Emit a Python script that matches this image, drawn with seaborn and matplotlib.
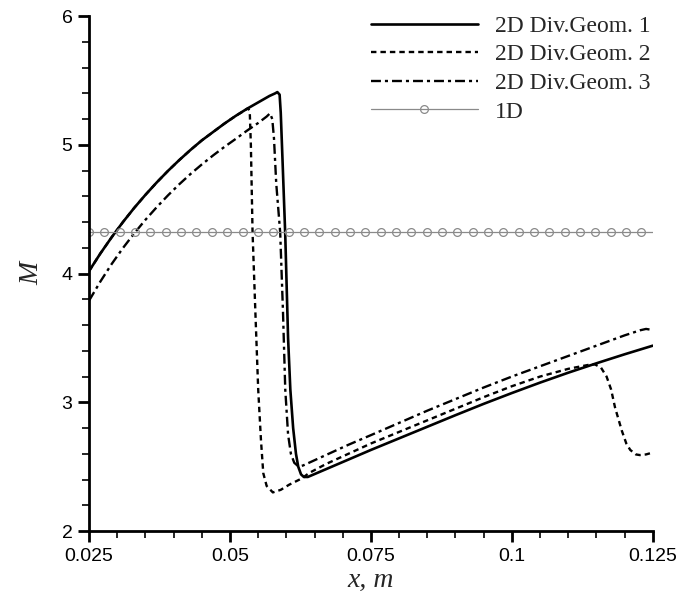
import numpy as np
import pandas as pd
import matplotlib
matplotlib.use("Agg")
import matplotlib.pyplot as plt
import seaborn as sns
from matplotlib.ticker import MultipleLocator, FixedLocator

# ---------------- data ----------------
labels = ["2D Div.Geom. 1", "2D Div.Geom. 2", "2D Div.Geom. 3", "1D"]

x_geom1 = [0.025, 0.027, 0.029, 0.031, 0.033, 0.035, 0.037, 0.039, 0.041, 0.043,
           0.045, 0.047, 0.049, 0.051, 0.053, 0.055, 0.057, 0.058, 0.0584, 0.0588,
           0.0590, 0.0593, 0.0598, 0.0603, 0.0607, 0.0612, 0.0617, 0.0621, 0.0626, 0.0631,
           0.0638, 0.067, 0.071, 0.075, 0.080, 0.085, 0.090, 0.095, 0.100, 0.105,
           0.110, 0.115, 0.120, 0.125]
y_geom1 = [4.02, 4.156, 4.282, 4.40, 4.51, 4.612, 4.708, 4.798, 4.882, 4.961,
           5.035, 5.10, 5.165, 5.225, 5.28, 5.33, 5.38, 5.40, 5.41, 5.39,
           5.25, 4.90, 4.30, 3.50, 3.10, 2.80, 2.60, 2.50, 2.44, 2.42,
           2.42, 2.48, 2.555, 2.63, 2.72, 2.81, 2.90, 2.988, 3.072, 3.153,
           3.230, 3.303, 3.373, 3.44]

x_geom2 = [0.025, 0.027, 0.029, 0.031, 0.033, 0.035, 0.037, 0.039, 0.041, 0.043,
           0.045, 0.047, 0.049, 0.051, 0.0525, 0.0532, 0.0535, 0.0537, 0.0540, 0.0545,
           0.0550, 0.0555, 0.0559, 0.0565, 0.0576, 0.0590, 0.0605, 0.0628, 0.064, 0.067,
           0.071, 0.075, 0.080, 0.085, 0.090, 0.095, 0.100, 0.105, 0.110, 0.1135,
           0.1147, 0.1158, 0.1168, 0.1176, 0.1183, 0.1195, 0.1203, 0.1210, 0.1220, 0.1227,
           0.1238, 0.125]
y_geom2 = [4.02, 4.156, 4.282, 4.40, 4.51, 4.612, 4.708, 4.798, 4.882, 4.961,
           5.035, 5.10, 5.165, 5.225, 5.265, 5.285, 5.26, 5.00, 4.32, 3.70,
           3.10, 2.70, 2.45, 2.35, 2.30, 2.32, 2.36, 2.41, 2.45, 2.52,
           2.60, 2.68, 2.77, 2.86, 2.95, 3.04, 3.125, 3.20, 3.26, 3.29,
           3.295, 3.27, 3.20, 3.10, 2.96, 2.78, 2.68, 2.63, 2.595, 2.59,
           2.595, 2.61]

x_geom3 = [0.025, 0.027, 0.029, 0.031, 0.033, 0.035, 0.037, 0.039, 0.041, 0.043,
           0.045, 0.047, 0.049, 0.051, 0.053, 0.055, 0.0565, 0.0571, 0.0575, 0.0578,
           0.0582, 0.0589, 0.0594, 0.0598, 0.0603, 0.0608, 0.0614, 0.0622, 0.063, 0.067,
           0.071, 0.075, 0.080, 0.085, 0.090, 0.095, 0.100, 0.105, 0.110, 0.115,
           0.120, 0.1228, 0.1238, 0.1245, 0.125]
y_geom3 = [3.79, 3.938, 4.074, 4.198, 4.312, 4.418, 4.516, 4.608, 4.694, 4.774,
           4.848, 4.918, 4.984, 5.046, 5.11, 5.17, 5.22, 5.245, 5.20, 5.05,
           4.70, 4.32, 3.70, 3.10, 2.75, 2.60, 2.53, 2.50, 2.51, 2.59,
           2.67, 2.745, 2.84, 2.935, 3.025, 3.115, 3.20, 3.28, 3.36, 3.44,
           3.52, 3.56, 3.57, 3.565, 3.55]

x_1d = [0.0250, 0.02772, 0.03044, 0.03317, 0.03589, 0.03861, 0.04133, 0.04405, 0.04678,
        0.04950, 0.05222, 0.05494, 0.05766, 0.06039, 0.06311, 0.06583, 0.06855, 0.07127,
        0.07400, 0.07672, 0.07944, 0.08216, 0.08488, 0.08761, 0.09033, 0.09305, 0.09577,
        0.09849, 0.10122, 0.10394, 0.10666, 0.10938, 0.11210, 0.11483, 0.11755, 0.12027,
        0.12299, 0.125]
y_1d = [4.32] * len(x_1d)

x_ticks = [0.025, 0.05, 0.075, 0.1, 0.125]
x_ticklabels = ["0.025", "0.05", "0.075", "0.1", "0.125"]
y_ticks = [2, 3, 4, 5, 6]
y_ticklabels = ["2", "3", "4", "5", "6"]

# ---------------- plotting ----------------
sns.set_style("ticks")
plt.rcParams["font.family"] = ["Liberation Sans", "DejaVu Sans"]

fig = plt.figure(figsize=(6.8, 5.98), dpi=100)
ax = fig.add_axes([0.131, 0.112, 0.829, 0.861])

series = [
    (x_geom1, y_geom1, labels[0]),
    (x_geom2, y_geom2, labels[1]),
    (x_geom3, y_geom3, labels[2]),
]
styles = [
    dict(color="black", lw=1.9, ls="-"),
    dict(color="black", lw=1.7, ls=(0, (2.3, 1.7))),
    dict(color="black", lw=1.7, ls=(0, (4.2, 1.7, 1.3, 1.7))),
]
for (xs, ys, lab), st in zip(series, styles):
    df = pd.DataFrame({"x": xs, "y": ys})
    sns.lineplot(data=df, x="x", y="y", ax=ax, sort=False, estimator=None,
                 color=st["color"], linewidth=st["lw"], label=lab)
    ax.lines[-1].set_linestyle(st["ls"])
    ax.lines[-1].set_solid_joinstyle("round")
    ax.lines[-1].set_dash_joinstyle("round")

df1 = pd.DataFrame({"x": x_1d, "y": y_1d})
sns.lineplot(data=df1, x="x", y="y", ax=ax, sort=False, estimator=None,
             color="#8a8a8a", linewidth=0.9, label=labels[3])
l1d = ax.lines[-1]
l1d.set_marker("o")
l1d.set_markersize(5.6)
l1d.set_markerfacecolor("none")
l1d.set_markeredgecolor("#8a8a8a")
l1d.set_markeredgewidth(0.9)
l1d.set_markevery(list(range(len(x_1d) - 1)))

ax.set_xlim(0.025, 0.125)
ax.set_ylim(2, 6)
ax.xaxis.set_major_locator(FixedLocator(x_ticks))
ax.set_xticklabels(x_ticklabels)
ax.xaxis.set_minor_locator(MultipleLocator(0.005))
ax.yaxis.set_major_locator(FixedLocator(y_ticks))
ax.set_yticklabels(y_ticklabels)
ax.yaxis.set_minor_locator(MultipleLocator(0.2))

sns.despine(ax=ax)
for s in ["left", "bottom"]:
    ax.spines[s].set_linewidth(2.0)
    ax.spines[s].set_color("black")
ax.tick_params(which="major", direction="out", length=8, width=2.0, labelsize=14,
               colors="black", pad=4)
ax.tick_params(which="minor", direction="out", length=5, width=1.2, colors="black")

serif = ["Liberation Serif", "DejaVu Serif"]
ax.set_xlabel("x, m", fontsize=20, fontstyle="italic", family=serif, labelpad=2)
ax.set_ylabel("M", fontsize=20, fontstyle="italic", family=serif, labelpad=12)

handles, labs = ax.get_legend_handles_labels()
leg = ax.legend(handles, labs, loc="upper left", bbox_to_anchor=(0.484, 1.02),
                frameon=False, handlelength=4.5, handletextpad=0.75,
                labelspacing=0.3, borderaxespad=0.0,
                prop={"family": serif, "size": 17})

fig.savefig("out.png", dpi=100)
